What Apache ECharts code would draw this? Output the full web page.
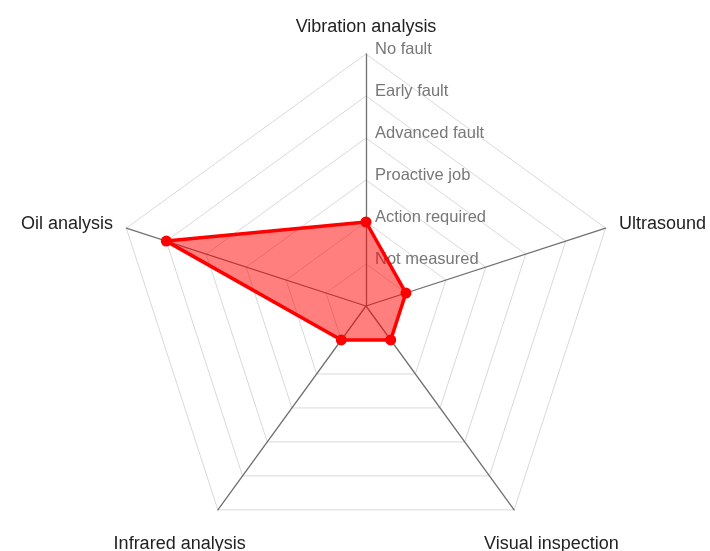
<!DOCTYPE html>
<html>
<head>
<meta charset="utf-8">
<script src="https://cdn.jsdelivr.net/npm/echarts@6/dist/echarts.min.js"></script>
<style>
  html, body { margin: 0; padding: 0; background: #fff; }
  #chart { width: 710px; height: 551px; }
</style>
</head>
<body>
<div id="chart"></div>
<script>
// indicators in counter-clockwise order, starting at the top
var indicators = ['Vibration analysis', 'Oil analysis', 'Infrared analysis', 'Visual inspection', 'Ultrasound']
var values = [2, 5, 1, 1, 1]
var levelLabels = ['', 'Not measured', 'Action required', 'Proactive job', 'Advanced fault', 'Early fault', 'No fault']

var FONT = 'Liberation Sans, Arial, sans-serif'

// per-indicator name placement tweaks
var nameStyles = [
  { padding: [0, 0, 4, 0] },
  {},
  { align: 'center', verticalAlign: 'top', padding: [14, 60, 0, 0] },
  { align: 'center', verticalAlign: 'top', padding: [14, 0, 0, 58] },
  {}
]

var chart = echarts.init(document.getElementById('chart'))

chart.setOption({
  animation: false,
  radar: {
    center: [366, 306],
    radius: 252,
    startAngle: 90,
    splitNumber: 6,
    shape: 'polygon',
    nameGap: 14,
    axisName: {
      color: '#222',
      fontSize: 18,
      fontFamily: FONT
    },
    indicator: indicators.map(function (name, i) {
      var ind = { name: name, min: 0, max: 6, nameTextStyle: nameStyles[i] }
      if (i === 0) {
        // only the top axis carries the level labels
        ind.axisLabel = {
          show: true,
          color: '#777',
          fontSize: 16.5,
          fontFamily: FONT,
          margin: -9,
          align: 'left',
          verticalAlign: 'bottom',
          lineHeight: 9,
          formatter: function (v) { return levelLabels[Math.round(v)] || '' }
        }
      }
      return ind
    }),
    axisLabel: { show: false },
    axisLine: { lineStyle: { color: '#707070', width: 1.3 } },
    splitLine: { lineStyle: { color: '#d9d9d9', width: 1 } },
    splitArea: { show: false }
  },
  series: [{
    type: 'radar',
    symbol: 'circle',
    symbolSize: 11,
    data: [{
      value: values,
      lineStyle: { color: '#ff0000', width: 3.5 },
      itemStyle: { color: '#ff0000' },
      areaStyle: { color: '#ff0000', opacity: 0.5 }
    }]
  }]
})
</script>
</body>
</html>
